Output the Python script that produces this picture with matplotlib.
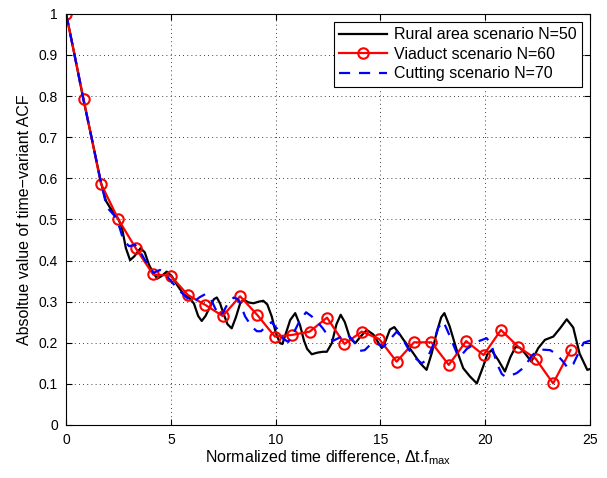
import numpy as np
import matplotlib
matplotlib.use("Agg")
import matplotlib.pyplot as plt

plt.rcParams['font.family'] = ['Liberation Sans', 'DejaVu Sans']
plt.rcParams['mathtext.fontset'] = 'custom'
plt.rcParams['mathtext.rm'] = 'Liberation Sans'
plt.rcParams['mathtext.it'] = 'Liberation Sans'

# rural area scenario N=50 (black)
rural_x = [0, 0.4, 0.83, 1.25, 1.66, 1.9, 2.1, 2.3, 2.5, 2.66, 2.85, 3.05, 3.25, 3.55, 3.75, 3.95,
           4.15, 4.35, 4.55, 4.8, 5.04, 5.3, 5.6, 5.9, 6.1, 6.3, 6.47, 6.65, 6.87, 7.05, 7.19, 7.35,
           7.5, 7.7, 7.9, 8.1, 8.3, 8.46, 8.7, 8.94, 9.2, 9.41, 9.6, 9.81, 10.0, 10.2, 10.32, 10.5,
           10.69, 10.93, 11.16, 11.35, 11.5, 11.72, 12.0, 12.25, 12.44, 12.68, 12.9, 13.1, 13.3,
           13.55, 13.8, 14.05, 14.35, 14.66, 14.9, 15.06, 15.25, 15.45, 15.66, 15.9, 16.1, 16.35,
           16.6, 16.9, 17.2, 17.45, 17.68, 17.9, 18.05, 18.3, 18.64, 18.95, 19.27, 19.6, 19.9, 20.1,
           20.3, 20.62, 20.94, 21.2, 21.45, 21.65, 21.9, 22.2, 22.53, 22.85, 23.25, 23.57, 23.89,
           24.2, 24.5, 24.87, 25.0]
rural_y = [1.0, 0.90, 0.79, 0.69, 0.59, 0.545, 0.528, 0.515, 0.50, 0.48, 0.43, 0.401, 0.41, 0.43, 0.42, 0.39,
           0.37, 0.356, 0.362, 0.373, 0.362, 0.34, 0.318, 0.308, 0.295, 0.265, 0.253, 0.265, 0.288, 0.306, 0.31, 0.295,
           0.272, 0.245, 0.235, 0.262, 0.295, 0.305, 0.298, 0.296, 0.30, 0.302, 0.293, 0.264, 0.225, 0.199, 0.197, 0.225,
           0.255, 0.272, 0.243, 0.205, 0.185, 0.172, 0.176, 0.178, 0.178, 0.199, 0.245, 0.268, 0.25,
           0.21, 0.199, 0.215, 0.231, 0.22, 0.2, 0.187, 0.205, 0.232, 0.238, 0.222, 0.207, 0.19,
           0.172, 0.15, 0.134, 0.175, 0.225, 0.262, 0.272, 0.24, 0.182, 0.138, 0.118, 0.101, 0.142, 0.172,
           0.182, 0.158, 0.13, 0.165, 0.19, 0.188, 0.174, 0.154, 0.187, 0.207, 0.215, 0.235, 0.257,
           0.237, 0.174, 0.134, 0.136]

# viaduct scenario N=60 (red, markers)
viaduct_x = [0, 0.83, 1.66, 2.49, 3.32, 4.15, 4.98, 5.81, 6.64, 7.47, 8.3, 9.13, 9.96, 10.79, 11.62,
             12.45, 13.28, 14.11, 14.94, 15.77, 16.6, 17.43, 18.26, 19.09, 19.92, 20.75, 21.58, 22.41,
             23.24, 24.07]
viaduct_y = [1.0, 0.793, 0.587, 0.50, 0.43, 0.366, 0.363, 0.316, 0.292, 0.265, 0.313, 0.267, 0.215, 0.219,
             0.227, 0.261, 0.197, 0.227, 0.209, 0.154, 0.201, 0.201, 0.146, 0.204, 0.170, 0.231, 0.19, 0.161,
             0.101, 0.182]

# cutting scenario N=70 (blue dashed)
cutting_x = [0, 0.4, 0.83, 1.25, 1.66, 1.94, 2.34, 2.55, 2.73, 3.0, 3.29, 3.55, 3.85, 4.17, 4.48, 4.75,
             4.96, 5.2, 5.44, 5.75, 6.07, 6.35, 6.63, 6.87, 7.1, 7.3, 7.5, 7.74, 8.0, 8.22, 8.54, 8.86,
             9.1, 9.3, 9.55, 9.8, 10.05, 10.35, 10.6, 10.85, 11.16, 11.45, 11.72, 12.0, 12.25, 12.52,
             12.75, 13.07, 13.4, 13.7, 14.0, 14.25, 14.55, 14.82, 15.14, 15.45, 15.78, 16.05, 16.33,
             16.6, 16.97, 17.2, 17.52, 17.76, 18.0, 18.32, 18.64, 18.8, 19.12, 19.43, 19.75, 20.07,
             20.3, 20.55, 20.79, 20.94, 21.2, 21.5, 21.9, 22.2, 22.5, 22.77, 23.1, 23.4, 23.7, 23.95,
             24.2, 24.45, 24.7, 25.0]
cutting_y = [1.0, 0.90, 0.79, 0.69, 0.59, 0.53, 0.507, 0.48, 0.45, 0.435, 0.438, 0.42, 0.393, 0.37, 0.377, 0.365,
             0.353, 0.338, 0.325, 0.31, 0.298, 0.31, 0.318, 0.31, 0.285, 0.265, 0.275, 0.298, 0.31, 0.305, 0.264, 0.239,
             0.228, 0.228, 0.24, 0.25, 0.235, 0.21, 0.202, 0.223, 0.255, 0.274, 0.264, 0.25, 0.235, 0.215,
             0.205, 0.213, 0.222, 0.205, 0.18, 0.182, 0.197, 0.199, 0.19, 0.208, 0.227, 0.21, 0.185,
             0.165, 0.15, 0.158, 0.195, 0.237, 0.252, 0.215, 0.175, 0.166, 0.185, 0.195, 0.205, 0.211,
             0.195, 0.15, 0.124, 0.118, 0.12, 0.126, 0.142, 0.168, 0.18, 0.183, 0.182, 0.172, 0.155, 0.138,
             0.148, 0.175, 0.2, 0.205]

fig = plt.figure(figsize=(6.07, 4.78), dpi=100)
ax = fig.add_axes([0.109, 0.111, 0.863, 0.860])

ax.plot(rural_x, rural_y, color='black', lw=1.6, label='Rural area scenario N=50')
ax.plot(viaduct_x, viaduct_y, color='red', lw=1.6, marker='o', ms=7.5, mfc='none', mew=1.5,
        label='Viaduct scenario N=60')
ax.plot(cutting_x, cutting_y, color='blue', lw=1.6, ls=(0, (5, 4)), label='Cutting scenario N=70')

ax.set_xlim(0, 25)
ax.set_ylim(0, 1)
ax.set_xticks([0, 5, 10, 15, 20, 25])
ax.set_yticks(np.arange(0, 1.01, 0.1))
ax.set_yticklabels(['0', '0.1', '0.2', '0.3', '0.4', '0.5', '0.6', '0.7', '0.8', '0.9', '1'])
ax.tick_params(direction='in', top=True, right=True, labelsize=10, length=4, pad=6)
ax.grid(True, color='black', ls=(0, (1, 4)), lw=0.6)
for s in ax.spines.values():
    s.set_linewidth(0.8)

ax.set_xlabel(r'Normalized time difference, $\Delta$t.f$_{\mathrm{max}}$', fontsize=11.5, labelpad=1)
ax.set_ylabel('Absoltue value of time\u2212variant ACF', fontsize=11.5, labelpad=5)

leg = ax.legend(loc='upper right', fontsize=11.5, fancybox=False, framealpha=1,
                edgecolor='black', handlelength=3.0, borderpad=0.35, labelspacing=0.28,
                handletextpad=0.4, borderaxespad=0.5)
leg.get_frame().set_linewidth(0.8)

fig.savefig('out.png', dpi=100)
